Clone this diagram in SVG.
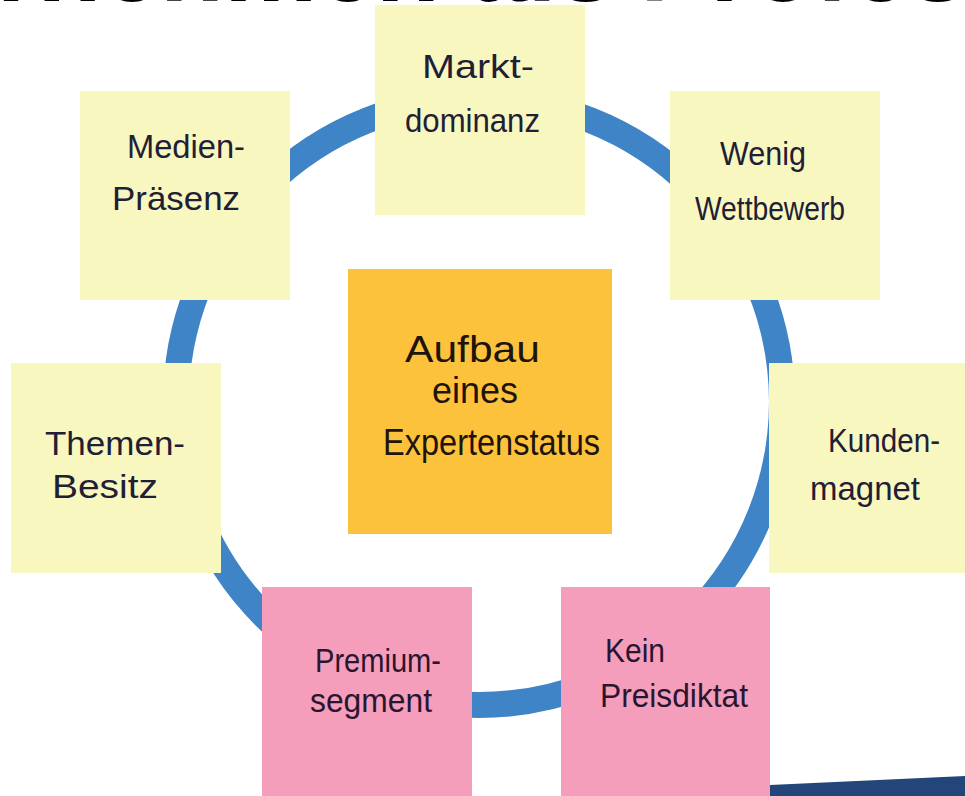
<svg xmlns="http://www.w3.org/2000/svg" width="965" height="796" viewBox="0 0 965 796">
<style>
.title{font-family:"Liberation Sans",Arial,sans-serif;font-weight:bold;font-size:105px;fill:#000}
.hw{font-family:"Liberation Sans",Arial,sans-serif;font-size:34px;fill:#1f2035}
.hwc{font-family:"Liberation Sans",Arial,sans-serif;font-size:36px;fill:#1e140c}
.hwp{font-family:"Liberation Sans",Arial,sans-serif;font-size:34px;fill:#2a1530}
.y{fill:#f8f7bf}
.p{fill:#f49ebb}
.o{fill:#fcc23c}
</style>
<rect width="965" height="796" fill="#ffffff"/>
<g id="title">
<text class="title" x="615" y="1" text-anchor="end">Unternehmen als</text>
<text class="title" x="640" y="1">Professional</text>
</g>
<g id="connectors">
<circle cx="479" cy="402" r="303" fill="none" stroke="#3e84c6" stroke-width="26"/>
</g>
<g id="n-marktdominanz">
<rect class="y" x="375" y="5" width="210" height="210"/>
<text class="hw" x="422" y="78" textLength="112" lengthAdjust="spacingAndGlyphs">Markt-</text>
<text class="hw" x="405" y="132" textLength="135" lengthAdjust="spacingAndGlyphs">dominanz</text>
</g>
<g id="n-medien">
<rect class="y" x="80" y="91" width="210" height="209"/>
<text class="hw" x="127" y="158" textLength="118" lengthAdjust="spacingAndGlyphs">Medien-</text>
<text class="hw" x="112" y="210" textLength="128" lengthAdjust="spacingAndGlyphs">Präsenz</text>
</g>
<g id="n-wettbewerb">
<rect class="y" x="670" y="91" width="210" height="209"/>
<text class="hw" x="720" y="165" textLength="86" lengthAdjust="spacingAndGlyphs">Wenig</text>
<text class="hw" x="695" y="220" textLength="150" lengthAdjust="spacingAndGlyphs">Wettbewerb</text>
</g>
<g id="n-themen">
<rect class="y" x="11" y="363" width="210" height="210"/>
<text class="hw" x="45" y="455" textLength="140" lengthAdjust="spacingAndGlyphs">Themen-</text>
<text class="hw" x="52" y="498" textLength="106" lengthAdjust="spacingAndGlyphs">Besitz</text>
</g>
<g id="n-kunden">
<rect class="y" x="769" y="363" width="200" height="210"/>
<text class="hw" x="828" y="452" textLength="112" lengthAdjust="spacingAndGlyphs">Kunden-</text>
<text class="hw" x="810" y="500" textLength="110" lengthAdjust="spacingAndGlyphs">magnet</text>
</g>
<g id="n-premium">
<rect class="p" x="262" y="587" width="210" height="212"/>
<text class="hwp" x="315" y="672" textLength="126" lengthAdjust="spacingAndGlyphs">Premium-</text>
<text class="hwp" x="310" y="712" textLength="122" lengthAdjust="spacingAndGlyphs">segment</text>
</g>
<g id="n-preisdiktat">
<rect class="p" x="561" y="587" width="209" height="212"/>
<text class="hwp" x="605" y="662" textLength="60" lengthAdjust="spacingAndGlyphs">Kein</text>
<text class="hwp" x="600" y="707" textLength="148" lengthAdjust="spacingAndGlyphs">Preisdiktat</text>
</g>
<g id="n-center">
<rect class="o" x="348" y="269" width="264" height="265"/>
<text class="hwc" x="405" y="362" textLength="135" lengthAdjust="spacingAndGlyphs">Aufbau</text>
<text class="hwc" x="432" y="403" textLength="86" lengthAdjust="spacingAndGlyphs">eines</text>
<text class="hwc" x="383" y="455" textLength="217" lengthAdjust="spacingAndGlyphs">Expertenstatus</text>
</g>
<polygon id="band" points="770,785 965,776 965,796 770,796" fill="#22467a"/>
</svg>
